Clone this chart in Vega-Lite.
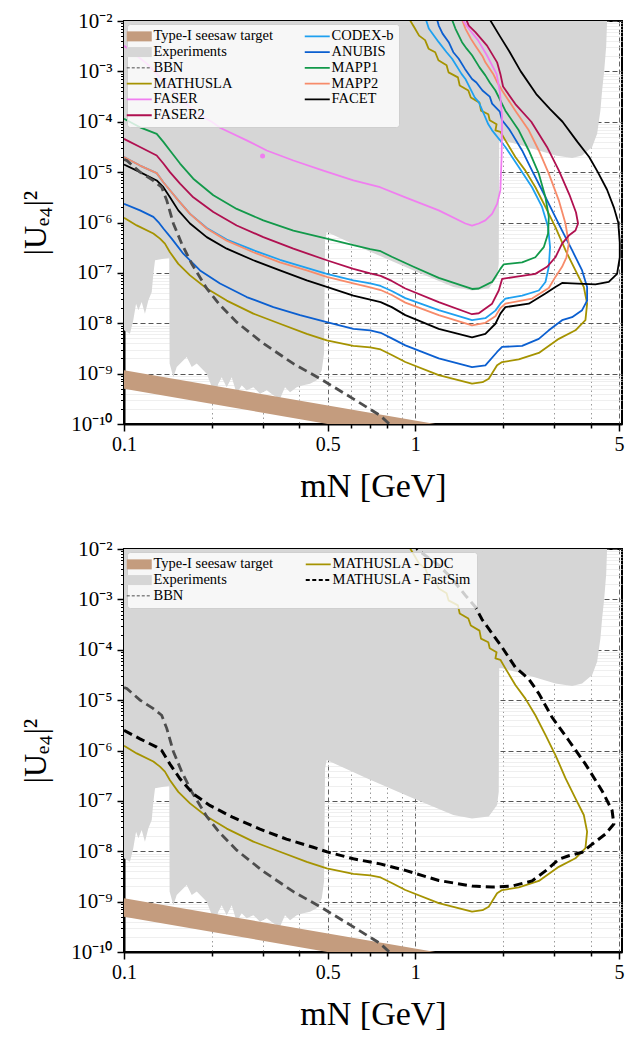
{
"$schema": "https://vega.github.io/schema/vega-lite/v6.json",
"background": "white",
"padding": {"left": 18, "top": 9, "right": 4, "bottom": 0},
"bounds": "flush",
"spacing": 125,
"config": {
 "view": {"stroke": "#000", "strokeWidth": 2},
 "axis": {"labelFont": "Liberation Serif", "titleFont": "Liberation Serif", "labelColor": "#000", "titleColor": "#000", "titleFontWeight": "normal", "domainColor": "#000", "domainWidth": 2, "tickColor": "#000", "zindex": 1, "labelFontSize": 20, "labelFlush": false, "labelOverlap": false, "labelBound": false},
 "legend": {"labelFont": "Liberation Serif", "labelFontSize": 14.5, "labelColor": "#000"}
},
"datasets": {
 "seesaw": [{"m":0.1,"lo":5e-10,"hi":1.17e-9},{"m":2,"lo":2.5e-11,"hi":5.85e-11}],
 "blob": [{"m":0.299,"u":2.09e-5}],
 "exp": [
  {"m":0.1,"lo":7.24e-9},{"m":0.1048,"lo":6.17e-9},{"m":0.1076,"lo":1.15e-8},{"m":0.11,"lo":2.45e-8},{"m":0.112,"lo":1.82e-8},{"m":0.115,"lo":2.63e-8},{"m":0.118,"lo":1.55e-8},{"m":0.1212,"lo":2.82e-8},{"m":0.1245,"lo":4.17e-8},{"m":0.1261,"lo":9.55e-8},{"m":0.1278,"lo":1.78e-7},{"m":0.143,"lo":2.0e-7},{"m":0.1434,"lo":1.58e-9},{"m":0.1477,"lo":8.51e-10},{"m":0.1517,"lo":1.35e-9},{"m":0.1578,"lo":1.7e-9},{"m":0.1642,"lo":2.14e-9},{"m":0.1708,"lo":1.35e-9},{"m":0.1777,"lo":1.58e-9},{"m":0.1923,"lo":1.0e-9},{"m":0.2053,"lo":3.72e-10},{"m":0.2107,"lo":6.31e-10},{"m":0.2164,"lo":8.51e-10},{"m":0.2252,"lo":5.37e-10},{"m":0.2343,"lo":8.51e-10},{"m":0.2437,"lo":3.98e-10},{"m":0.2535,"lo":5.89e-10},{"m":0.2637,"lo":4.68e-10},{"m":0.278,"lo":5.37e-10},{"m":0.2931,"lo":3.98e-10},{"m":0.309,"lo":4.68e-10},{"m":0.3256,"lo":3.72e-10},{"m":0.343,"lo":3.16e-10},{"m":0.357,"lo":5.37e-10},{"m":0.3715,"lo":4.27e-10},{"m":0.3916,"lo":5.37e-10},{"m":0.4125,"lo":5.89e-10},{"m":0.435,"lo":6.31e-10},{"m":0.4586,"lo":7.41e-10},{"m":0.4773,"lo":1.17e-9},{"m":0.486,"lo":2.51e-9},{"m":0.4898,"lo":4.37e-7},{"m":0.4965,"lo":6.46e-7},{"m":0.681,"lo":2.82e-7},{"m":0.986,"lo":1.12e-7},{"m":1.35,"lo":5.25e-8},{"m":1.565,"lo":4.47e-8},{"m":1.786,"lo":4.9e-8},{"m":1.908,"lo":8.32e-8},{"m":1.933,"lo":1.51e-7},{"m":1.94,"lo":4.27e-5},{"m":1.985,"lo":4.27e-5},{"m":2.325,"lo":3.39e-5},{"m":2.653,"lo":2.69e-5},{"m":3.025,"lo":2.14e-5},{"m":3.451,"lo":1.91e-5},{"m":3.735,"lo":2.14e-5},{"m":4.044,"lo":3.16e-5},{"m":4.206,"lo":5.75e-5},{"m":4.316,"lo":1.66e-4},{"m":4.375,"lo":4.17e-4},{"m":4.45,"lo":1.05e-3},{"m":4.52,"lo":3.24e-3},{"m":4.55,"lo":1.0e-2}
 ],
 "bbn": [
  {"s":"BBN","i":1,"m":0.1,"u":1.78e-5},{"s":"BBN","i":2,"m":0.1022,"u":1.7e-5},{"s":"BBN","i":3,"m":0.1135,"u":1.0e-5},{"s":"BBN","i":4,"m":0.1261,"u":6.76e-6},{"s":"BBN","i":5,"m":0.1347,"u":5.01e-6},{"s":"BBN","i":6,"m":0.1402,"u":2.75e-6},{"s":"BBN","i":7,"m":0.1477,"u":9.55e-7},{"s":"BBN","i":8,"m":0.1578,"u":3.8e-7},{"s":"BBN","i":9,"m":0.1708,"u":1.51e-7},{"s":"BBN","i":10,"m":0.1923,"u":4.9e-8},{"s":"BBN","i":11,"m":0.2136,"u":2.29e-8},{"s":"BBN","i":12,"m":0.2437,"u":1.05e-8},{"s":"BBN","i":13,"m":0.3007,"u":3.98e-9},{"s":"BBN","i":14,"m":0.3813,"u":1.58e-9},{"s":"BBN","i":15,"m":0.4709,"u":7.94e-10},{"s":"BBN","i":16,"m":0.6126,"u":3.16e-10},{"s":"BBN","i":17,"m":0.7566,"u":1.48e-10},{"s":"BBN","i":18,"m":0.85,"u":7.94e-11}
 ],
 "fs": [
  {"s":"MATHUSLA - FastSim","i":1,"m":0.1,"u":2.51e-6},{"s":"MATHUSLA - FastSim","i":2,"m":0.1135,"u":1.7e-6},{"s":"MATHUSLA - FastSim","i":3,"m":0.1295,"u":1.17e-6},{"s":"MATHUSLA - FastSim","i":4,"m":0.1347,"u":1.0e-6},{"s":"MATHUSLA - FastSim","i":5,"m":0.1438,"u":5.37e-7},{"s":"MATHUSLA - FastSim","i":6,"m":0.1557,"u":2.75e-7},{"s":"MATHUSLA - FastSim","i":7,"m":0.1729,"u":1.38e-7},{"s":"MATHUSLA - FastSim","i":8,"m":0.197,"u":8.13e-8},{"s":"MATHUSLA - FastSim","i":9,"m":0.237,"u":4.68e-8},{"s":"MATHUSLA - FastSim","i":10,"m":0.293,"u":2.75e-8},{"s":"MATHUSLA - FastSim","i":11,"m":0.361,"u":1.74e-8},{"s":"MATHUSLA - FastSim","i":12,"m":0.446,"u":1.2e-8},{"s":"MATHUSLA - FastSim","i":13,"m":0.4965,"u":9.77e-9},{"s":"MATHUSLA - FastSim","i":14,"m":0.6126,"u":7.08e-9},{"s":"MATHUSLA - FastSim","i":15,"m":0.757,"u":5.62e-9},{"s":"MATHUSLA - FastSim","i":16,"m":0.924,"u":4.17e-9},{"s":"MATHUSLA - FastSim","i":17,"m":1.203,"u":2.63e-9},{"s":"MATHUSLA - FastSim","i":18,"m":1.565,"u":2.04e-9},{"s":"MATHUSLA - FastSim","i":19,"m":1.834,"u":1.95e-9},{"s":"MATHUSLA - FastSim","i":20,"m":2.148,"u":2.04e-9},{"s":"MATHUSLA - FastSim","i":21,"m":2.515,"u":2.57e-9},{"s":"MATHUSLA - FastSim","i":22,"m":2.796,"u":4.07e-9},{"s":"MATHUSLA - FastSim","i":23,"m":3.107,"u":6.92e-9},{"s":"MATHUSLA - FastSim","i":24,"m":3.362,"u":8.13e-9},{"s":"MATHUSLA - FastSim","i":25,"m":3.735,"u":9.55e-9},{"s":"MATHUSLA - FastSim","i":26,"m":4.044,"u":1.38e-8},{"s":"MATHUSLA - FastSim","i":27,"m":4.49,"u":2.19e-8},{"s":"MATHUSLA - FastSim","i":28,"m":4.8,"u":3.47e-8},{"s":"MATHUSLA - FastSim","i":29,"m":4.734,"u":6.46e-8},{"s":"MATHUSLA - FastSim","i":30,"m":4.375,"u":1.58e-7},{"s":"MATHUSLA - FastSim","i":31,"m":3.835,"u":5.37e-7},{"s":"MATHUSLA - FastSim","i":32,"m":3.362,"u":1.58e-6},{"s":"MATHUSLA - FastSim","i":33,"m":2.946,"u":4.57e-6},{"s":"MATHUSLA - FastSim","i":34,"m":2.653,"u":1.35e-5},{"s":"MATHUSLA - FastSim","i":35,"m":2.451,"u":2.63e-5},{"s":"MATHUSLA - FastSim","i":36,"m":2.204,"u":4.47e-5},{"s":"MATHUSLA - FastSim","i":37,"m":1.985,"u":1.12e-4},{"s":"MATHUSLA - FastSim","i":38,"m":1.694,"u":3.98e-4},{"s":"MATHUSLA - FastSim","i":39,"m":1.607,"u":7.08e-4},{"s":"MATHUSLA - FastSim","i":40,"m":1.485,"u":1.2e-3},{"s":"MATHUSLA - FastSim","i":41,"m":1.337,"u":2.57e-3},{"s":"MATHUSLA - FastSim","i":42,"m":1.203,"u":4.79e-3},{"s":"MATHUSLA - FastSim","i":43,"m":1.082,"u":7.41e-3},{"s":"MATHUSLA - FastSim","i":44,"m":1.027,"u":9.33e-3},{"s":"MATHUSLA - FastSim","i":45,"m":1.01,"u":1.02e-2}
 ],
 "c": [
  {"s":"MATHUSLA","i":1,"m":0.1,"u":1.24e-6},{"s":"MATHUSLA","i":2,"m":0.1106,"u":8.75e-7},{"s":"MATHUSLA","i":3,"m":0.1261,"u":6.03e-7},{"s":"MATHUSLA","i":4,"m":0.1329,"u":4.79e-7},{"s":"MATHUSLA","i":5,"m":0.1382,"u":3.8e-7},{"s":"MATHUSLA","i":6,"m":0.1438,"u":2.57e-7},{"s":"MATHUSLA","i":7,"m":0.1536,"u":1.51e-7},{"s":"MATHUSLA","i":8,"m":0.1685,"u":8.91e-8},{"s":"MATHUSLA","i":9,"m":0.1923,"u":4.9e-8},{"s":"MATHUSLA","i":10,"m":0.2252,"u":2.82e-8},{"s":"MATHUSLA","i":11,"m":0.278,"u":1.55e-8},{"s":"MATHUSLA","i":12,"m":0.343,"u":9.77e-9},{"s":"MATHUSLA","i":13,"m":0.424,"u":6.17e-9},{"s":"MATHUSLA","i":14,"m":0.4965,"u":4.57e-9},{"s":"MATHUSLA","i":15,"m":0.6126,"u":3.55e-9},{"s":"MATHUSLA","i":16,"m":0.7,"u":3.31e-9},{"s":"MATHUSLA","i":17,"m":0.76,"u":3.02e-9},{"s":"MATHUSLA","i":18,"m":0.83,"u":2.34e-9},{"s":"MATHUSLA","i":19,"m":0.924,"u":1.7e-9},{"s":"MATHUSLA","i":20,"m":1.203,"u":9.33e-10},{"s":"MATHUSLA","i":21,"m":1.565,"u":6.31e-10},{"s":"MATHUSLA","i":22,"m":1.7,"u":6.76e-10},{"s":"MATHUSLA","i":23,"m":1.786,"u":7.94e-10},{"s":"MATHUSLA","i":24,"m":1.908,"u":1.46e-9},{"s":"MATHUSLA","i":25,"m":1.985,"u":1.7e-9},{"s":"MATHUSLA","i":26,"m":2.264,"u":1.91e-9},{"s":"MATHUSLA","i":27,"m":2.653,"u":2.57e-9},{"s":"MATHUSLA","i":28,"m":3.107,"u":4.9e-9},{"s":"MATHUSLA","i":29,"m":3.544,"u":7.24e-9},{"s":"MATHUSLA","i":30,"m":3.835,"u":1.15e-8},{"s":"MATHUSLA","i":31,"m":3.886,"u":2.45e-8},{"s":"MATHUSLA","i":32,"m":3.786,"u":5.25e-8},{"s":"MATHUSLA","i":33,"m":3.544,"u":1.12e-7},{"s":"MATHUSLA","i":34,"m":3.275,"u":2.82e-7},{"s":"MATHUSLA","i":35,"m":3.025,"u":8.13e-7},{"s":"MATHUSLA","i":36,"m":2.796,"u":2.04e-6},{"s":"MATHUSLA","i":37,"m":2.582,"u":5.01e-6},{"s":"MATHUSLA","i":38,"m":2.386,"u":1.07e-5},{"s":"MATHUSLA","i":39,"m":2.204,"u":2.0e-5},{"s":"MATHUSLA","i":40,"m":2.037,"u":4.27e-5},{"s":"MATHUSLA","i":41,"m":1.958,"u":6.31e-5},{"s":"MATHUSLA","i":42,"m":1.883,"u":6.76e-5},{"s":"MATHUSLA","i":43,"m":1.9,"u":8.91e-5},{"s":"MATHUSLA","i":44,"m":1.8,"u":1.07e-4},{"s":"MATHUSLA","i":45,"m":1.78,"u":1.41e-4},{"s":"MATHUSLA","i":46,"m":1.68,"u":1.66e-4},{"s":"MATHUSLA","i":47,"m":1.66,"u":2.4e-4},{"s":"MATHUSLA","i":48,"m":1.55,"u":3.02e-4},{"s":"MATHUSLA","i":49,"m":1.52,"u":4.17e-4},{"s":"MATHUSLA","i":50,"m":1.42,"u":5.25e-4},{"s":"MATHUSLA","i":51,"m":1.4,"u":7.59e-4},{"s":"MATHUSLA","i":52,"m":1.3,"u":9.55e-4},{"s":"MATHUSLA","i":53,"m":1.28,"u":1.32e-3},{"s":"MATHUSLA","i":54,"m":1.2,"u":1.66e-3},{"s":"MATHUSLA","i":55,"m":1.17,"u":2.4e-3},{"s":"MATHUSLA","i":56,"m":1.11,"u":2.82e-3},{"s":"MATHUSLA","i":57,"m":1.08,"u":4.17e-3},{"s":"MATHUSLA","i":58,"m":1.03,"u":5.13e-3},{"s":"MATHUSLA","i":59,"m":0.99,"u":7.59e-3},{"s":"MATHUSLA","i":60,"m":0.96,"u":1.02e-2},
  {"s":"ANUBIS","i":1,"m":0.1,"u":2.34e-6},{"s":"ANUBIS","i":2,"m":0.1135,"u":1.74e-6},{"s":"ANUBIS","i":3,"m":0.1261,"u":1.29e-6},{"s":"ANUBIS","i":4,"m":0.1312,"u":1.02e-6},{"s":"ANUBIS","i":5,"m":0.1365,"u":7.59e-7},{"s":"ANUBIS","i":6,"m":0.1458,"u":4.79e-7},{"s":"ANUBIS","i":7,"m":0.1598,"u":2.4e-7},{"s":"ANUBIS","i":8,"m":0.1824,"u":1.12e-7},{"s":"ANUBIS","i":9,"m":0.2136,"u":6.17e-8},{"s":"ANUBIS","i":10,"m":0.2637,"u":3.31e-8},{"s":"ANUBIS","i":11,"m":0.3256,"u":2.09e-8},{"s":"ANUBIS","i":12,"m":0.402,"u":1.45e-8},{"s":"ANUBIS","i":13,"m":0.4965,"u":1.05e-8},{"s":"ANUBIS","i":14,"m":0.6126,"u":7.76e-9},{"s":"ANUBIS","i":15,"m":0.7,"u":7.24e-9},{"s":"ANUBIS","i":16,"m":0.76,"u":6.46e-9},{"s":"ANUBIS","i":17,"m":0.83,"u":5.01e-9},{"s":"ANUBIS","i":18,"m":0.924,"u":3.63e-9},{"s":"ANUBIS","i":19,"m":1.203,"u":2.0e-9},{"s":"ANUBIS","i":20,"m":1.565,"u":1.35e-9},{"s":"ANUBIS","i":21,"m":1.739,"u":1.46e-9},{"s":"ANUBIS","i":22,"m":1.908,"u":2.69e-9},{"s":"ANUBIS","i":23,"m":1.985,"u":3.39e-9},{"s":"ANUBIS","i":24,"m":2.325,"u":3.55e-9},{"s":"ANUBIS","i":25,"m":2.653,"u":4.9e-9},{"s":"ANUBIS","i":26,"m":2.871,"u":7.24e-9},{"s":"ANUBIS","i":27,"m":3.189,"u":1.15e-8},{"s":"ANUBIS","i":28,"m":3.451,"u":1.32e-8},{"s":"ANUBIS","i":29,"m":3.735,"u":1.82e-8},{"s":"ANUBIS","i":30,"m":3.886,"u":2.82e-8},{"s":"ANUBIS","i":31,"m":3.886,"u":5.25e-8},{"s":"ANUBIS","i":32,"m":3.735,"u":1.12e-7},{"s":"ANUBIS","i":33,"m":3.451,"u":2.82e-7},{"s":"ANUBIS","i":34,"m":3.189,"u":6.92e-7},{"s":"ANUBIS","i":35,"m":2.946,"u":1.74e-6},{"s":"ANUBIS","i":36,"m":2.722,"u":4.37e-6},{"s":"ANUBIS","i":37,"m":2.515,"u":1.07e-5},{"s":"ANUBIS","i":38,"m":2.325,"u":2.69e-5},{"s":"ANUBIS","i":39,"m":2.148,"u":5.75e-5},{"s":"ANUBIS","i":40,"m":2.1,"u":7.08e-5},{"s":"ANUBIS","i":41,"m":1.985,"u":1.07e-4},{"s":"ANUBIS","i":42,"m":1.95,"u":1.58e-4},{"s":"ANUBIS","i":43,"m":1.834,"u":2.29e-4},{"s":"ANUBIS","i":44,"m":1.8,"u":3.16e-4},{"s":"ANUBIS","i":45,"m":1.7,"u":4.17e-4},{"s":"ANUBIS","i":46,"m":1.62,"u":6.03e-4},{"s":"ANUBIS","i":47,"m":1.565,"u":7.08e-4},{"s":"ANUBIS","i":48,"m":1.48,"u":1.12e-3},{"s":"ANUBIS","i":49,"m":1.409,"u":1.78e-3},{"s":"ANUBIS","i":50,"m":1.35,"u":2.4e-3},{"s":"ANUBIS","i":51,"m":1.302,"u":3.8e-3},{"s":"ANUBIS","i":52,"m":1.24,"u":5.62e-3},{"s":"ANUBIS","i":53,"m":1.203,"u":8.13e-3},{"s":"ANUBIS","i":54,"m":1.19,"u":1.02e-2},
  {"s":"CODEX-b","i":1,"m":0.1,"u":2.0e-5},{"s":"CODEX-b","i":2,"m":0.1135,"u":1.35e-5},{"s":"CODEX-b","i":3,"m":0.1295,"u":9.55e-6},{"s":"CODEX-b","i":4,"m":0.1365,"u":6.31e-6},{"s":"CODEX-b","i":5,"m":0.1438,"u":4.37e-6},{"s":"CODEX-b","i":6,"m":0.1536,"u":2.75e-6},{"s":"CODEX-b","i":7,"m":0.1685,"u":1.48e-6},{"s":"CODEX-b","i":8,"m":0.1923,"u":7.76e-7},{"s":"CODEX-b","i":9,"m":0.2252,"u":4.57e-7},{"s":"CODEX-b","i":10,"m":0.278,"u":2.82e-7},{"s":"CODEX-b","i":11,"m":0.343,"u":1.82e-7},{"s":"CODEX-b","i":12,"m":0.424,"u":1.26e-7},{"s":"CODEX-b","i":13,"m":0.4965,"u":9.55e-8},{"s":"CODEX-b","i":14,"m":0.6126,"u":7.08e-8},{"s":"CODEX-b","i":15,"m":0.7,"u":6.17e-8},{"s":"CODEX-b","i":16,"m":0.76,"u":5.5e-8},{"s":"CODEX-b","i":17,"m":0.83,"u":4.37e-8},{"s":"CODEX-b","i":18,"m":0.924,"u":3.16e-8},{"s":"CODEX-b","i":19,"m":1.203,"u":1.82e-8},{"s":"CODEX-b","i":20,"m":1.565,"u":1.15e-8},{"s":"CODEX-b","i":21,"m":1.739,"u":1.26e-8},{"s":"CODEX-b","i":22,"m":1.883,"u":1.78e-8},{"s":"CODEX-b","i":23,"m":1.958,"u":2.45e-8},{"s":"CODEX-b","i":24,"m":2.037,"u":3.09e-8},{"s":"CODEX-b","i":25,"m":2.325,"u":3.55e-8},{"s":"CODEX-b","i":26,"m":2.653,"u":4.47e-8},{"s":"CODEX-b","i":27,"m":2.796,"u":6.61e-8},{"s":"CODEX-b","i":28,"m":2.871,"u":1.32e-7},{"s":"CODEX-b","i":29,"m":2.9,"u":3.24e-7},{"s":"CODEX-b","i":30,"m":2.855,"u":8.13e-7},{"s":"CODEX-b","i":31,"m":2.722,"u":2.04e-6},{"s":"CODEX-b","i":32,"m":2.515,"u":5.01e-6},{"s":"CODEX-b","i":33,"m":2.264,"u":1.26e-5},{"s":"CODEX-b","i":34,"m":2.037,"u":3.16e-5},{"s":"CODEX-b","i":35,"m":1.834,"u":6.76e-5},{"s":"CODEX-b","i":36,"m":1.78,"u":8.91e-5},{"s":"CODEX-b","i":37,"m":1.72,"u":1.41e-4},{"s":"CODEX-b","i":38,"m":1.651,"u":2.45e-4},{"s":"CODEX-b","i":39,"m":1.6,"u":3.02e-4},{"s":"CODEX-b","i":40,"m":1.485,"u":7.08e-4},{"s":"CODEX-b","i":41,"m":1.44,"u":8.91e-4},{"s":"CODEX-b","i":42,"m":1.337,"u":1.78e-3},{"s":"CODEX-b","i":43,"m":1.28,"u":2.4e-3},{"s":"CODEX-b","i":44,"m":1.203,"u":3.8e-3},{"s":"CODEX-b","i":45,"m":1.112,"u":7.08e-3},{"s":"CODEX-b","i":46,"m":1.09,"u":1.02e-2},
  {"s":"MAPP2","i":1,"m":0.1,"u":2.0e-5},{"s":"MAPP2","i":2,"m":0.1135,"u":1.35e-5},{"s":"MAPP2","i":3,"m":0.1295,"u":9.55e-6},{"s":"MAPP2","i":4,"m":0.1365,"u":6.31e-6},{"s":"MAPP2","i":5,"m":0.1438,"u":4.37e-6},{"s":"MAPP2","i":6,"m":0.1536,"u":2.75e-6},{"s":"MAPP2","i":7,"m":0.1685,"u":1.48e-6},{"s":"MAPP2","i":8,"m":0.1923,"u":7.59e-7},{"s":"MAPP2","i":9,"m":0.2252,"u":4.37e-7},{"s":"MAPP2","i":10,"m":0.278,"u":2.57e-7},{"s":"MAPP2","i":11,"m":0.343,"u":1.62e-7},{"s":"MAPP2","i":12,"m":0.424,"u":1.12e-7},{"s":"MAPP2","i":13,"m":0.4965,"u":8.32e-8},{"s":"MAPP2","i":14,"m":0.6126,"u":6.17e-8},{"s":"MAPP2","i":15,"m":0.7,"u":5.13e-8},{"s":"MAPP2","i":16,"m":0.76,"u":4.57e-8},{"s":"MAPP2","i":17,"m":0.83,"u":3.63e-8},{"s":"MAPP2","i":18,"m":0.924,"u":2.57e-8},{"s":"MAPP2","i":19,"m":1.203,"u":1.45e-8},{"s":"MAPP2","i":20,"m":1.565,"u":9.12e-9},{"s":"MAPP2","i":21,"m":1.739,"u":1.02e-8},{"s":"MAPP2","i":22,"m":1.883,"u":1.38e-8},{"s":"MAPP2","i":23,"m":1.958,"u":2.0e-8},{"s":"MAPP2","i":24,"m":2.037,"u":2.45e-8},{"s":"MAPP2","i":25,"m":2.515,"u":3.09e-8},{"s":"MAPP2","i":26,"m":2.871,"u":5.01e-8},{"s":"MAPP2","i":27,"m":3.025,"u":8.32e-8},{"s":"MAPP2","i":28,"m":3.189,"u":1.32e-7},{"s":"MAPP2","i":29,"m":3.3,"u":2.04e-7},{"s":"MAPP2","i":30,"m":3.362,"u":3.8e-7},{"s":"MAPP2","i":31,"m":3.275,"u":9.55e-7},{"s":"MAPP2","i":32,"m":3.107,"u":2.75e-6},{"s":"MAPP2","i":33,"m":2.871,"u":9.33e-6},{"s":"MAPP2","i":34,"m":2.653,"u":2.69e-5},{"s":"MAPP2","i":35,"m":2.451,"u":6.76e-5},{"s":"MAPP2","i":36,"m":2.204,"u":1.66e-4},{"s":"MAPP2","i":37,"m":1.985,"u":4.17e-4},{"s":"MAPP2","i":38,"m":1.95,"u":5.01e-4},{"s":"MAPP2","i":39,"m":1.908,"u":6.1e-4},{"s":"MAPP2","i":40,"m":1.85,"u":8.91e-4},{"s":"MAPP2","i":41,"m":1.739,"u":1.51e-3},{"s":"MAPP2","i":42,"m":1.7,"u":2.0e-3},{"s":"MAPP2","i":43,"m":1.607,"u":3.24e-3},{"s":"MAPP2","i":44,"m":1.55,"u":4.47e-3},{"s":"MAPP2","i":45,"m":1.485,"u":7.08e-3},{"s":"MAPP2","i":46,"m":1.45,"u":1.02e-2},
  {"s":"MAPP1","i":1,"m":0.1,"u":1.15e-4},{"s":"MAPP1","i":2,"m":0.1135,"u":7.76e-5},{"s":"MAPP1","i":3,"m":0.1295,"u":5.75e-5},{"s":"MAPP1","i":4,"m":0.1365,"u":3.98e-5},{"s":"MAPP1","i":5,"m":0.1438,"u":2.69e-5},{"s":"MAPP1","i":6,"m":0.1557,"u":1.48e-5},{"s":"MAPP1","i":7,"m":0.1729,"u":7.41e-6},{"s":"MAPP1","i":8,"m":0.2026,"u":3.47e-6},{"s":"MAPP1","i":9,"m":0.2437,"u":1.86e-6},{"s":"MAPP1","i":10,"m":0.3007,"u":1.1e-6},{"s":"MAPP1","i":11,"m":0.3813,"u":6.92e-7},{"s":"MAPP1","i":12,"m":0.4965,"u":4.79e-7},{"s":"MAPP1","i":13,"m":0.6126,"u":3.55e-7},{"s":"MAPP1","i":14,"m":0.7,"u":2.95e-7},{"s":"MAPP1","i":15,"m":0.76,"u":2.69e-7},{"s":"MAPP1","i":16,"m":0.83,"u":2.09e-7},{"s":"MAPP1","i":17,"m":0.986,"u":1.32e-7},{"s":"MAPP1","i":18,"m":1.203,"u":7.94e-8},{"s":"MAPP1","i":19,"m":1.565,"u":4.79e-8},{"s":"MAPP1","i":20,"m":1.651,"u":4.9e-8},{"s":"MAPP1","i":21,"m":1.834,"u":6.61e-8},{"s":"MAPP1","i":22,"m":1.958,"u":1.2e-7},{"s":"MAPP1","i":23,"m":2.011,"u":1.48e-7},{"s":"MAPP1","i":24,"m":2.325,"u":1.62e-7},{"s":"MAPP1","i":25,"m":2.582,"u":2.04e-7},{"s":"MAPP1","i":26,"m":2.759,"u":3.24e-7},{"s":"MAPP1","i":27,"m":2.855,"u":6.03e-7},{"s":"MAPP1","i":28,"m":2.871,"u":1.29e-6},{"s":"MAPP1","i":29,"m":2.796,"u":3.16e-6},{"s":"MAPP1","i":30,"m":2.653,"u":9.33e-6},{"s":"MAPP1","i":31,"m":2.451,"u":2.69e-5},{"s":"MAPP1","i":32,"m":2.264,"u":6.76e-5},{"s":"MAPP1","i":33,"m":2.037,"u":1.66e-4},{"s":"MAPP1","i":34,"m":1.883,"u":4.17e-4},{"s":"MAPP1","i":35,"m":1.8,"u":6.03e-4},{"s":"MAPP1","i":36,"m":1.739,"u":8.32e-4},{"s":"MAPP1","i":37,"m":1.66,"u":1.2e-3},{"s":"MAPP1","i":38,"m":1.565,"u":2.09e-3},{"s":"MAPP1","i":39,"m":1.5,"u":2.82e-3},{"s":"MAPP1","i":40,"m":1.446,"u":3.8e-3},{"s":"MAPP1","i":41,"m":1.372,"u":7.08e-3},{"s":"MAPP1","i":42,"m":1.34,"u":1.02e-2},
  {"s":"FASER2","i":1,"m":0.1,"u":4.57e-5},{"s":"FASER2","i":2,"m":0.1135,"u":3.16e-5},{"s":"FASER2","i":3,"m":0.1295,"u":2.14e-5},{"s":"FASER2","i":4,"m":0.1365,"u":1.48e-5},{"s":"FASER2","i":5,"m":0.1438,"u":1.0e-5},{"s":"FASER2","i":6,"m":0.1557,"u":5.89e-6},{"s":"FASER2","i":7,"m":0.1729,"u":3.16e-6},{"s":"FASER2","i":8,"m":0.2026,"u":1.62e-6},{"s":"FASER2","i":9,"m":0.2437,"u":8.71e-7},{"s":"FASER2","i":10,"m":0.3007,"u":5.13e-7},{"s":"FASER2","i":11,"m":0.3813,"u":3.02e-7},{"s":"FASER2","i":12,"m":0.4965,"u":1.78e-7},{"s":"FASER2","i":13,"m":0.6126,"u":1.2e-7},{"s":"FASER2","i":14,"m":0.7,"u":9.77e-8},{"s":"FASER2","i":15,"m":0.76,"u":8.71e-8},{"s":"FASER2","i":16,"m":0.83,"u":6.92e-8},{"s":"FASER2","i":17,"m":0.924,"u":4.9e-8},{"s":"FASER2","i":18,"m":1.203,"u":2.63e-8},{"s":"FASER2","i":19,"m":1.565,"u":1.51e-8},{"s":"FASER2","i":20,"m":1.651,"u":1.58e-8},{"s":"FASER2","i":21,"m":1.834,"u":2.45e-8},{"s":"FASER2","i":22,"m":1.933,"u":4.47e-8},{"s":"FASER2","i":23,"m":1.985,"u":7.59e-8},{"s":"FASER2","i":24,"m":2.204,"u":8.32e-8},{"s":"FASER2","i":25,"m":2.582,"u":9.55e-8},{"s":"FASER2","i":26,"m":2.832,"u":1.32e-7},{"s":"FASER2","i":27,"m":3.025,"u":2.04e-7},{"s":"FASER2","i":28,"m":3.189,"u":3.8e-7},{"s":"FASER2","i":29,"m":3.362,"u":5.5e-7},{"s":"FASER2","i":30,"m":3.544,"u":6.92e-7},{"s":"FASER2","i":31,"m":3.618,"u":9.55e-7},{"s":"FASER2","i":32,"m":3.56,"u":1.58e-6},{"s":"FASER2","i":33,"m":3.38,"u":3.55e-6},{"s":"FASER2","i":34,"m":3.11,"u":1.07e-5},{"s":"FASER2","i":35,"m":2.83,"u":3.16e-5},{"s":"FASER2","i":36,"m":2.5,"u":1.0e-4},{"s":"FASER2","i":37,"m":2.204,"u":2.24e-4},{"s":"FASER2","i":38,"m":2.0,"u":5.01e-4},{"s":"FASER2","i":39,"m":1.958,"u":8.91e-4},{"s":"FASER2","i":40,"m":1.908,"u":1.51e-3},{"s":"FASER2","i":41,"m":1.762,"u":3.24e-3},{"s":"FASER2","i":42,"m":1.607,"u":6.03e-3},{"s":"FASER2","i":43,"m":1.525,"u":8.13e-3},{"s":"FASER2","i":44,"m":1.5,"u":1.02e-2},
  {"s":"FACET","i":1,"m":0.1,"u":1.41e-5},{"s":"FACET","i":2,"m":0.1135,"u":1.0e-5},{"s":"FACET","i":3,"m":0.1295,"u":6.84e-6},{"s":"FACET","i":4,"m":0.1365,"u":5.01e-6},{"s":"FACET","i":5,"m":0.1438,"u":3.16e-6},{"s":"FACET","i":6,"m":0.1536,"u":1.74e-6},{"s":"FACET","i":7,"m":0.1685,"u":9.55e-7},{"s":"FACET","i":8,"m":0.1923,"u":5.13e-7},{"s":"FACET","i":9,"m":0.2252,"u":3.02e-7},{"s":"FACET","i":10,"m":0.278,"u":1.78e-7},{"s":"FACET","i":11,"m":0.343,"u":1.12e-7},{"s":"FACET","i":12,"m":0.424,"u":7.08e-8},{"s":"FACET","i":13,"m":0.4965,"u":5.25e-8},{"s":"FACET","i":14,"m":0.6126,"u":3.55e-8},{"s":"FACET","i":15,"m":0.7,"u":2.95e-8},{"s":"FACET","i":16,"m":0.76,"u":2.63e-8},{"s":"FACET","i":17,"m":0.83,"u":2.09e-8},{"s":"FACET","i":18,"m":0.924,"u":1.45e-8},{"s":"FACET","i":19,"m":1.203,"u":7.76e-9},{"s":"FACET","i":20,"m":1.565,"u":5.25e-9},{"s":"FACET","i":21,"m":1.739,"u":6.17e-9},{"s":"FACET","i":22,"m":1.883,"u":9.77e-9},{"s":"FACET","i":23,"m":1.958,"u":1.55e-8},{"s":"FACET","i":24,"m":2.037,"u":2.09e-8},{"s":"FACET","i":25,"m":2.451,"u":2.45e-8},{"s":"FACET","i":26,"m":2.796,"u":3.89e-8},{"s":"FACET","i":27,"m":3.025,"u":5.25e-8},{"s":"FACET","i":28,"m":3.189,"u":6.31e-8},{"s":"FACET","i":29,"m":3.451,"u":6.17e-8},{"s":"FACET","i":30,"m":4.15,"u":5.89e-8},{"s":"FACET","i":31,"m":4.612,"u":6.61e-8},{"s":"FACET","i":32,"m":4.925,"u":9.55e-8},{"s":"FACET","i":33,"m":5.03,"u":2.04e-7},{"s":"FACET","i":34,"m":5.03,"u":3.98e-7},{"s":"FACET","i":35,"m":4.97,"u":1.0e-6},{"s":"FACET","i":36,"m":4.8,"u":2.0e-6},{"s":"FACET","i":37,"m":4.55,"u":4.47e-6},{"s":"FACET","i":38,"m":4.23,"u":1.0e-5},{"s":"FACET","i":39,"m":3.95,"u":2.0e-5},{"s":"FACET","i":40,"m":3.6,"u":3.98e-5},{"s":"FACET","i":41,"m":3.2,"u":1.0e-4},{"s":"FACET","i":42,"m":2.9,"u":1.78e-4},{"s":"FACET","i":43,"m":2.6,"u":3.55e-4},{"s":"FACET","i":44,"m":2.3,"u":1.0e-3},{"s":"FACET","i":45,"m":2.1,"u":2.51e-3},{"s":"FACET","i":46,"m":1.95,"u":5.01e-3},{"s":"FACET","i":47,"m":1.81,"u":1.02e-2},
  {"s":"FASER","i":1,"m":0.1,"u":3.24e-3},{"s":"FASER","i":2,"m":0.12,"u":1.41e-3},{"s":"FASER","i":3,"m":0.14,"u":5.62e-4},{"s":"FASER","i":4,"m":0.16,"u":2.51e-4},{"s":"FASER","i":5,"m":0.18,"u":1.41e-4},{"s":"FASER","i":6,"m":0.2,"u":1.0e-4},{"s":"FASER","i":7,"m":0.2136,"u":7.59e-5},{"s":"FASER","i":8,"m":0.2637,"u":4.27e-5},{"s":"FASER","i":9,"m":0.309,"u":2.69e-5},{"s":"FASER","i":10,"m":0.3813,"u":1.7e-5},{"s":"FASER","i":11,"m":0.4832,"u":1.07e-5},{"s":"FASER","i":12,"m":0.6126,"u":6.84e-6},{"s":"FASER","i":13,"m":0.757,"u":5.01e-6},{"s":"FASER","i":14,"m":0.924,"u":3.16e-6},{"s":"FASER","i":15,"m":1.203,"u":1.74e-6},{"s":"FASER","i":16,"m":1.485,"u":9.55e-7},{"s":"FASER","i":17,"m":1.565,"u":8.71e-7},{"s":"FASER","i":18,"m":1.651,"u":9.55e-7},{"s":"FASER","i":19,"m":1.739,"u":1.1e-6},{"s":"FASER","i":20,"m":1.834,"u":1.48e-6},{"s":"FASER","i":21,"m":1.908,"u":2.34e-6},{"s":"FASER","i":22,"m":1.958,"u":4.37e-6},{"s":"FASER","i":23,"m":1.977,"u":2.0e-5},{"s":"FASER","i":24,"m":1.985,"u":1.23e-4},{"s":"FASER","i":25,"m":1.95,"u":3.98e-4},{"s":"FASER","i":26,"m":1.9,"u":8.91e-4},{"s":"FASER","i":27,"m":1.76,"u":2.09e-3},{"s":"FASER","i":28,"m":1.64,"u":4.17e-3},{"s":"FASER","i":29,"m":1.5,"u":7.94e-3},{"s":"FASER","i":30,"m":1.46,"u":1.02e-2}
 ]
},
"vconcat": [
 {
  "width": 498, "height": 403,
  "layer": [
   {"data": {"name": "exp"}, "mark": {"type": "area", "color": "#d6d6d6", "clip": true},
    "encoding": {
     "x": {"field": "m", "type": "quantitative", "scale": {"type": "log", "domain": [0.1, 5.12], "nice": false},
       "axis": {"title": "mN [GeV]", "titleFontSize": 34, "titlePadding": 15, "values": [0.1,0.2,0.3,0.4,0.5,0.6,0.7,0.8,0.9,1,2,3,4,5], "labelExpr": "indexof([0.1,0.5,1,5], datum.value) >= 0 ? format(datum.value, '~g') : ''", "labelPadding": 3, "tickSize": {"condition": {"test": "indexof([0.1,0.5,1,5], datum.value) >= 0", "value": 7}, "value": 4}, "tickWidth": 1.5, "grid": true, "gridColor": {"condition": {"test": "indexof([0.5,1,5], datum.value) >= 0", "value": "#666666"}, "value": "#999999"}, "gridDash": {"condition": {"test": "indexof([0.5,1,5], datum.value) >= 0", "value": [5,3]}, "value": [1.5,3]}, "gridWidth": 1}},
     "y": {"field": "lo", "type": "quantitative", "scale": {"type": "log", "domain": [1e-10, 0.01], "nice": false},
       "axis": {"title": "|Uₑ₄|²", "titleFontSize": 32, "titlePadding": 18, "labelFontSize": 21, "values": [1e-10,2e-10,3e-10,4e-10,5e-10,6e-10,7e-10,8e-10,9e-10,1e-9,2e-9,3e-9,4e-9,5e-9,6e-9,7e-9,8e-9,9e-9,1e-8,2e-8,3e-8,4e-8,5e-8,6e-8,7e-8,8e-8,9e-8,1e-7,2e-7,3e-7,4e-7,5e-7,6e-7,7e-7,8e-7,9e-7,1e-6,2e-6,3e-6,4e-6,5e-6,6e-6,7e-6,8e-6,9e-6,1e-5,2e-5,3e-5,4e-5,5e-5,6e-5,7e-5,8e-5,9e-5,1e-4,2e-4,3e-4,4e-4,5e-4,6e-4,7e-4,8e-4,9e-4,1e-3,2e-3,3e-3,4e-3,5e-3,6e-3,7e-3,8e-3,9e-3,1e-2], "labelExpr": "abs(log(datum.value)/LN10 - round(log(datum.value)/LN10)) < 0.01 ? '10' + ['⁻¹⁰','⁻⁹','⁻⁸','⁻⁷','⁻⁶','⁻⁵','⁻⁴','⁻³','⁻²'][round(log(datum.value)/LN10) + 10] : ''", "labelPadding": 5, "tickSize": {"condition": {"test": "abs(log(datum.value)/LN10 - round(log(datum.value)/LN10)) < 0.01", "value": 7}, "value": 3.5}, "tickWidth": {"condition": {"test": "abs(log(datum.value)/LN10 - round(log(datum.value)/LN10)) < 0.01", "value": 1.5}, "value": 1}, "grid": true, "gridColor": {"condition": {"test": "abs(log(datum.value)/LN10 - round(log(datum.value)/LN10)) < 0.01", "value": "#555555"}, "value": "#e4e4e4"}, "gridDash": {"condition": {"test": "abs(log(datum.value)/LN10 - round(log(datum.value)/LN10)) < 0.01", "value": [5,3]}, "value": [1,0]}, "gridWidth": {"condition": {"test": "abs(log(datum.value)/LN10 - round(log(datum.value)/LN10)) < 0.01", "value": 1}, "value": 0.8}}},
     "y2": {"datum": 0.01}
    }},
   {"data": {"name": "seesaw"}, "mark": {"type": "area", "color": "#c49c7e", "clip": true},
    "encoding": {
     "x": {"field": "m", "type": "quantitative", "scale": {"type": "log", "domain": [0.1, 5.12], "nice": false}},
     "y": {"field": "lo", "type": "quantitative", "scale": {"type": "log", "domain": [1e-10, 0.01], "nice": false}},
     "y2": {"field": "hi"}
    }},
   {"data": {"name": "c"}, "mark": {"type": "line", "strokeWidth": 1.8, "clip": true, "strokeJoin": "round"},
    "encoding": {
     "x": {"field": "m", "type": "quantitative", "scale": {"type": "log", "domain": [0.1, 5.12], "nice": false}},
     "y": {"field": "u", "type": "quantitative", "scale": {"type": "log", "domain": [1e-10, 0.01], "nice": false}},
     "order": {"field": "i", "type": "quantitative"},
     "color": {"field": "s", "type": "nominal",
       "scale": {"domain": ["Type-I seesaw target","Experiments","BBN","MATHUSLA","FASER","FASER2","CODEX-b","ANUBIS","MAPP1","MAPP2","FACET"],
                 "range": ["#c49c7e","#d6d6d6","#4d4d4d","#a59300","#f07ef0","#b01050","#1ea0f0","#0b5fd0","#12994a","#f78b6a","#000000"]},
       "legend": {"title": null, "orient": "top-left", "offset": 3, "columns": 2, "columnPadding": 28, "rowPadding": 0.8, "padding": 5, "fillColor": "rgba(255,255,255,0.8)", "strokeColor": "#cfcfcf", "cornerRadius": 3, "symbolSize": 625, "labelFontSize": 14.5, "labelOffset": 7, "labelLimit": 400, "zindex": 2,
         "symbolType": {"expr": "(datum.value === 'Type-I seesaw target' || datum.value === 'Experiments') ? 'M-1,-0.4H1V0.4H-1Z' : 'stroke'"},
         "symbolFillColor": {"expr": "datum.value === 'Type-I seesaw target' ? '#c49c7e' : (datum.value === 'Experiments' ? '#d6d6d6' : 'transparent')"},
         "symbolStrokeWidth": {"expr": "(datum.value === 'Type-I seesaw target' || datum.value === 'Experiments') ? 0 : (datum.value === 'BBN' ? 1 : 1.8)"},
         "symbolDash": {"expr": "datum.value === 'BBN' ? [3,2] : [1,0]"}}
     }
    }},
   {"data": {"name": "bbn"}, "mark": {"type": "line", "color": "#4d4d4d", "strokeWidth": 2.8, "strokeDash": [9,5], "clip": true},
    "encoding": {
     "x": {"field": "m", "type": "quantitative", "scale": {"type": "log", "domain": [0.1, 5.12], "nice": false}},
     "y": {"field": "u", "type": "quantitative", "scale": {"type": "log", "domain": [1e-10, 0.01], "nice": false}},
     "order": {"field": "i", "type": "quantitative"}
    }},
   {"data": {"name": "blob"}, "mark": {"type": "point", "filled": true, "color": "#f07ef0", "size": 25, "opacity": 1, "clip": true},
    "encoding": {
     "x": {"field": "m", "type": "quantitative", "scale": {"type": "log", "domain": [0.1, 5.12], "nice": false}},
     "y": {"field": "u", "type": "quantitative", "scale": {"type": "log", "domain": [1e-10, 0.01], "nice": false}}
    }}
  ]
 },
 {
  "width": 498, "height": 403,
  "layer": [
   {"data": {"name": "exp"}, "mark": {"type": "area", "color": "#d6d6d6", "clip": true},
    "encoding": {
     "x": {"field": "m", "type": "quantitative", "scale": {"type": "log", "domain": [0.1, 5.12], "nice": false},
       "axis": {"title": "mN [GeV]", "titleFontSize": 34, "titlePadding": 15, "values": [0.1,0.2,0.3,0.4,0.5,0.6,0.7,0.8,0.9,1,2,3,4,5], "labelExpr": "indexof([0.1,0.5,1,5], datum.value) >= 0 ? format(datum.value, '~g') : ''", "labelPadding": 3, "tickSize": {"condition": {"test": "indexof([0.1,0.5,1,5], datum.value) >= 0", "value": 7}, "value": 4}, "tickWidth": 1.5, "grid": true, "gridColor": {"condition": {"test": "indexof([0.5,1,5], datum.value) >= 0", "value": "#666666"}, "value": "#999999"}, "gridDash": {"condition": {"test": "indexof([0.5,1,5], datum.value) >= 0", "value": [5,3]}, "value": [1.5,3]}, "gridWidth": 1}},
     "y": {"field": "lo", "type": "quantitative", "scale": {"type": "log", "domain": [1e-10, 0.01], "nice": false},
       "axis": {"title": "|Uₑ₄|²", "titleFontSize": 32, "titlePadding": 18, "labelFontSize": 21, "values": [1e-10,2e-10,3e-10,4e-10,5e-10,6e-10,7e-10,8e-10,9e-10,1e-9,2e-9,3e-9,4e-9,5e-9,6e-9,7e-9,8e-9,9e-9,1e-8,2e-8,3e-8,4e-8,5e-8,6e-8,7e-8,8e-8,9e-8,1e-7,2e-7,3e-7,4e-7,5e-7,6e-7,7e-7,8e-7,9e-7,1e-6,2e-6,3e-6,4e-6,5e-6,6e-6,7e-6,8e-6,9e-6,1e-5,2e-5,3e-5,4e-5,5e-5,6e-5,7e-5,8e-5,9e-5,1e-4,2e-4,3e-4,4e-4,5e-4,6e-4,7e-4,8e-4,9e-4,1e-3,2e-3,3e-3,4e-3,5e-3,6e-3,7e-3,8e-3,9e-3,1e-2], "labelExpr": "abs(log(datum.value)/LN10 - round(log(datum.value)/LN10)) < 0.01 ? '10' + ['⁻¹⁰','⁻⁹','⁻⁸','⁻⁷','⁻⁶','⁻⁵','⁻⁴','⁻³','⁻²'][round(log(datum.value)/LN10) + 10] : ''", "labelPadding": 5, "tickSize": {"condition": {"test": "abs(log(datum.value)/LN10 - round(log(datum.value)/LN10)) < 0.01", "value": 7}, "value": 3.5}, "tickWidth": {"condition": {"test": "abs(log(datum.value)/LN10 - round(log(datum.value)/LN10)) < 0.01", "value": 1.5}, "value": 1}, "grid": true, "gridColor": {"condition": {"test": "abs(log(datum.value)/LN10 - round(log(datum.value)/LN10)) < 0.01", "value": "#555555"}, "value": "#e4e4e4"}, "gridDash": {"condition": {"test": "abs(log(datum.value)/LN10 - round(log(datum.value)/LN10)) < 0.01", "value": [5,3]}, "value": [1,0]}, "gridWidth": {"condition": {"test": "abs(log(datum.value)/LN10 - round(log(datum.value)/LN10)) < 0.01", "value": 1}, "value": 0.8}}},
     "y2": {"datum": 0.01}
    }},
   {"data": {"name": "seesaw"}, "mark": {"type": "area", "color": "#c49c7e", "clip": true},
    "encoding": {
     "x": {"field": "m", "type": "quantitative", "scale": {"type": "log", "domain": [0.1, 5.12], "nice": false}},
     "y": {"field": "lo", "type": "quantitative", "scale": {"type": "log", "domain": [1e-10, 0.01], "nice": false}},
     "y2": {"field": "hi"}
    }},
   {"data": {"name": "c"}, "transform": [{"filter": "datum.s === 'MATHUSLA'"}], "mark": {"type": "line", "color": "#a59300", "strokeWidth": 1.8, "clip": true, "strokeJoin": "round"},
    "encoding": {
     "x": {"field": "m", "type": "quantitative", "scale": {"type": "log", "domain": [0.1, 5.12], "nice": false}},
     "y": {"field": "u", "type": "quantitative", "scale": {"type": "log", "domain": [1e-10, 0.01], "nice": false}},
     "order": {"field": "i", "type": "quantitative"}
    }},
   {"data": {"name": "bbn"}, "mark": {"type": "line", "color": "#4d4d4d", "strokeWidth": 2.8, "strokeDash": [9,5], "clip": true},
    "encoding": {
     "x": {"field": "m", "type": "quantitative", "scale": {"type": "log", "domain": [0.1, 5.12], "nice": false}},
     "y": {"field": "u", "type": "quantitative", "scale": {"type": "log", "domain": [1e-10, 0.01], "nice": false}},
     "order": {"field": "i", "type": "quantitative"}
    }},
   {"data": {"name": "fs"}, "mark": {"type": "line", "strokeWidth": 3, "strokeDash": [9,5], "clip": true},
    "encoding": {
     "x": {"field": "m", "type": "quantitative", "scale": {"type": "log", "domain": [0.1, 5.12], "nice": false}},
     "y": {"field": "u", "type": "quantitative", "scale": {"type": "log", "domain": [1e-10, 0.01], "nice": false}},
     "order": {"field": "i", "type": "quantitative"},
     "color": {"field": "s", "type": "nominal",
       "scale": {"domain": ["Type-I seesaw target","Experiments","BBN","MATHUSLA - DDC","MATHUSLA - FastSim"],
                 "range": ["#c49c7e","#d6d6d6","#4d4d4d","#a59300","#000000"]},
       "legend": {"title": null, "orient": "top-left", "offset": 3, "columns": 2, "columnPadding": 28, "rowPadding": 0.8, "padding": 5, "fillColor": "rgba(255,255,255,0.8)", "strokeColor": "#cfcfcf", "cornerRadius": 3, "symbolSize": 625, "labelFontSize": 14.5, "labelOffset": 7, "labelLimit": 400, "zindex": 2,
         "symbolType": {"expr": "(datum.value === 'Type-I seesaw target' || datum.value === 'Experiments') ? 'M-1,-0.4H1V0.4H-1Z' : 'stroke'"},
         "symbolFillColor": {"expr": "datum.value === 'Type-I seesaw target' ? '#c49c7e' : (datum.value === 'Experiments' ? '#d6d6d6' : 'transparent')"},
         "symbolStrokeWidth": {"expr": "(datum.value === 'Type-I seesaw target' || datum.value === 'Experiments') ? 0 : (datum.value === 'BBN' ? 1 : (datum.value === 'MATHUSLA - FastSim' ? 2 : 1.8))"},
         "symbolDash": {"expr": "datum.value === 'BBN' ? [3,2] : (datum.value === 'MATHUSLA - FastSim' ? [4,2.5] : [1,0])"}}
     }
    }}
  ]
 }
],
"resolve": {"scale": {"color": "independent"}, "legend": {"color": "independent"}}
}
